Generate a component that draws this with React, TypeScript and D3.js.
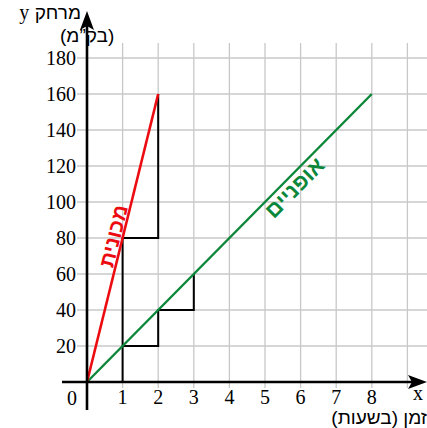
import React from 'react';
import * as d3 from 'd3';

const xTicks = [1, 2, 3, 4, 5, 6, 7, 8];
const yTicks = [20, 40, 60, 80, 100, 120, 140, 160, 180];
const gridX = [1, 2, 3, 4, 5, 6, 7, 8, 9];

// distance-time lines
const carLine: [number, number][] = [[0, 0], [2, 160]];
const bikeLine: [number, number][] = [[0, 0], [8, 160]];

// slope triangles (step paths)
const carSteps: [number, number][] = [[1, 0], [1, 80], [2, 80], [2, 160]];
const bikeSteps: [number, number][] = [[1, 20], [2, 20], [2, 40], [3, 40], [3, 60]];

const RED = '#ec0b10';
const GREEN = '#0c873a';

const App: React.FC = () => {
  const W = 427;
  const H = 428;
  const x = d3.scaleLinear().domain([0, 9]).range([87, 407.4]);
  const y = d3.scaleLinear().domain([0, 180]).range([382, 58]);
  const line = d3.line<[number, number]>().x(d => x(d[0])).y(d => y(d[1]));

  const serif = '"Liberation Serif", "Times New Roman", serif';
  const sans = '"Liberation Sans", Arial, "DejaVu Sans", sans-serif';

  const carAngle = (Math.atan2(y(160) - y(0), x(2) - x(0)) * 180) / Math.PI;
  const bikeAngle = (Math.atan2(y(160) - y(0), x(8) - x(0)) * 180) / Math.PI;

  return (
    <div style={{ position: 'absolute', left: 0, top: 0 }}>
      <svg width={W} height={H} style={{ display: 'block', background: '#fff' }}>
        {/* grid */}
        <g stroke="#c8c8c8" strokeWidth={1.3}>
          {gridX.map(v => (
            <line key={'gx' + v} x1={x(v)} x2={x(v)} y1={43} y2={388} />
          ))}
          {yTicks.map(v => (
            <line key={'gy' + v} x1={77} x2={W} y1={y(v)} y2={y(v)} />
          ))}
        </g>

        {/* slope triangles */}
        <path d={line(carSteps) || ''} fill="none" stroke="#000" strokeWidth={2} />
        <path d={line(bikeSteps) || ''} fill="none" stroke="#000" strokeWidth={2} />

        {/* lines */}
        <path d={line(bikeLine) || ''} fill="none" stroke={GREEN} strokeWidth={2.4} />
        <path d={line(carLine) || ''} fill="none" stroke={RED} strokeWidth={2.6} />

        {/* axes */}
        <line x1={62} x2={412} y1={y(0)} y2={y(0)} stroke="#000" strokeWidth={2.6} />
        <path d={`M427,${y(0)} L408,${y(0) - 7} L412,${y(0)} L408,${y(0) + 7} Z`} fill="#000" />
        <line x1={x(0)} x2={x(0)} y1={410} y2={26} stroke="#000" strokeWidth={2.6} />
        <path d={`M${x(0)},11 L${x(0) - 7},30 L${x(0)},26 L${x(0) + 7},30 Z`} fill="#000" />

        {/* tick labels */}
        <g fontFamily={serif} fontSize={20} fill="#000">
          {xTicks.map(v => (
            <text key={'tx' + v} x={x(v)} y={404} textAnchor="middle">{v}</text>
          ))}
          {yTicks.map(v => (
            <text key={'ty' + v} x={76} y={y(v) + 7} textAnchor="end">{v}</text>
          ))}
          <text x={72} y={405} textAnchor="middle">0</text>
          <text x={418} y={400} textAnchor="middle">x</text>
        </g>

        {/* axis titles */}
        <g fontFamily={sans} fontSize={19} fill="#000">
          <text x={81} y={19} textAnchor="end">
            <tspan fontFamily={serif} fontSize={20}>y</tspan>
            <tspan> </tspan>
            <tspan direction="rtl" unicodeBidi="embed">מרחק</tspan>
          </text>
          <text x={60} y={42} textAnchor="end" direction="rtl">(בק”מ)</text>
          <text x={427} y={424} textAnchor="start" direction="rtl">זמן (בשעות)</text>
        </g>

        {/* line labels */}
        <text
          transform={`translate(${x(0.97)},${y(80)}) rotate(${carAngle})`}
          textAnchor="middle"
          dy={-1}
          direction="rtl"
          fontFamily={sans}
          fontWeight="bold"
          fontSize={21}
          fill={RED}
        >
          מכונית
        </text>
        <text
          transform={`translate(${x(5.62)},${y(112)}) rotate(${bikeAngle})`}
          textAnchor="middle"
          dy={18}
          direction="rtl"
          fontFamily={sans}
          fontWeight="bold"
          fontSize={22}
          fill={GREEN}
        >
          אופניים
        </text>
      </svg>
    </div>
  );
};

export default App;
